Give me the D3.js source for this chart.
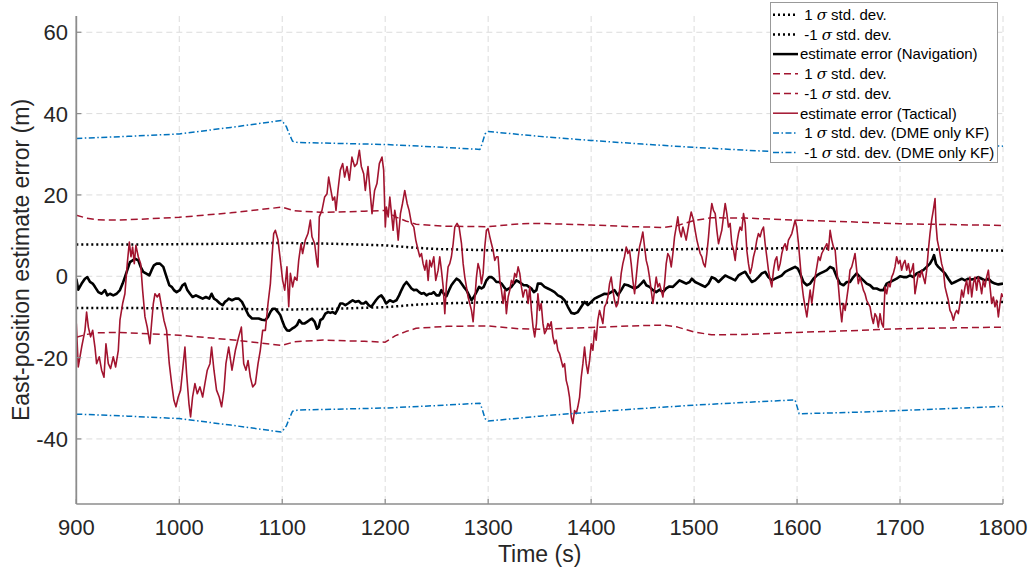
<!DOCTYPE html>
<html><head><meta charset="utf-8">
<script src="https://cdn.jsdelivr.net/npm/d3@7"></script>
<style>html,body{margin:0;padding:0;background:#fff;} svg{display:block;font-family:"Liberation Sans",Arial,Helvetica,sans-serif;}</style>
</head><body><svg id="chart" width="1034" height="573"></svg>
<script>
// ---------- data ----------
const xTicks = [900,1000,1100,1200,1300,1400,1500,1600,1700,1800];
const yTicks = [-40,-20,0,20,40,60];
const xLabel = "Time (s)";
const yLabel = "East-position estimate error (m)";
const legendLabels = ["1 σ std. dev.","-1 σ std. dev.","estimate error (Navigation)","1 σ std. dev.","-1 σ std. dev.","estimate error (Tactical)","1 σ std. dev. (DME only KF)","-1 σ std. dev. (DME only KF)"];

// Navigation-grade 1-sigma envelope
const navSigT = [900,950,1000,1050,1100,1150,1200,1215,1230,1250,1300,1350,1400,1450,1500,1550,1600,1650,1700,1750,1800];
const navSigV = [7.8,7.8,7.9,8.0,8.2,8.0,7.6,7.3,7.0,6.7,6.4,6.3,6.4,6.5,6.7,6.8,6.9,6.8,6.7,6.5,6.3];

// Tactical-grade 1-sigma envelope
const tacSigT = [900,910,920,940,960,1000,1050,1100,1112,1140,1180,1200,1210,1220,1230,1260,1300,1330,1350,1400,1440,1471,1484,1500,1517,1550,1600,1650,1700,1750,1800];
const tacSigV = [15.0,14.3,13.9,13.8,14.0,14.5,15.6,17.0,16.1,15.7,16.0,16.2,14.6,13.6,12.8,12.3,12.2,12.9,13.0,12.6,12.2,12.0,12.5,13.7,14.4,14.3,13.8,13.4,12.9,12.7,12.5];

// DME-only KF 1-sigma envelope
const dmeSigT = [900,950,1000,1050,1099,1101,1104,1106,1110,1115,1150,1200,1250,1292,1294,1297,1300,1350,1400,1450,1500,1550,1598,1600,1602,1650,1700,1750,1800];
const dmeSigV = [33.9,34.4,35.0,36.6,38.3,37.8,36.8,35.5,33.2,32.9,32.7,32.4,31.8,31.2,32.5,35.0,35.6,34.4,33.4,32.5,31.7,31.0,30.4,32.0,33.8,33.5,33.0,32.5,32.0];

// Navigation estimate error
const navT = [900,901.9,905.2,908.4,910.7,913.3,915.9,918.1,921.4,924.6,927.8,930.1,932.7,935.9,939.2,942.4,945,947.2,949.5,952.1,954.7,957,960.2,962.5,965,967.6,970.9,973.1,975.4,978,981.2,984.5,987.7,990.3,992.6,994.8,997.4,1000.6,1003.2,1005.5,1007.8,1010.4,1012.9,1016.2,1019.4,1022.7,1025.9,1029.1,1031.4,1033.7,1036.2,1039.5,1042.1,1044.3,1046.6,
1048,1051.2,1054.5,1057.7,1060.9,1064.2,1067.4,1070.7,1073.9,1077.1,1080.4,1083.6,1086.2,1088.5,1090.7,1093.3,1095.9,1098.2,1100.4,1102.4,1104.6,1106.9,1109.5,1112.1,1114.3,1116.6,1119.2,1121.8,1124.1,1126.3,1128.9,1131.5,1133.8,1135.4,1137,1139.3,1141.9,1144.4,1146.7,1149,1151.6,1154.1,1156.4,1158.7,1161.3,1163.9,1166.1,1168.4,1171,1174.2,1176.8,1179.1,1181.3,1183.9,1186.5,1188.8,1191,1193.6,1196.2,1198.5,1200.8,
1204.5,1207.7,1210.9,1213.5,1215.8,1218.1,1220.7,1223.2,1225.5,1227.8,1230.4,1233,1235.2,1237.5,1240.1,1242.7,1244.9,1247.2,1249.8,1252.4,1254.6,1256.9,1259.5,1262.1,1264.3,1266.6,1269.2,1271.8,1274.1,1276.3,1278.9,1281.5,1283.8,1286,1288.6,1291.2,1293.5,1295.7,1298.3,1300.9,1303.2,1305.4,1308,1310.6,1312.9,1315.2,1317.7,1320.3,1322.6,1324.9,1327.4,1330,1332.3,1334.6,1337.2,1339.7,1342,1344.3,1346.9,
1348.3,1351.5,1354.8,1358,1361.2,1364.5,1367.7,1371,1374.2,1377.4,1380.7,1383.9,1387.1,1390.4,1393.6,1396.8,1400.1,1403.3,1406.5,1409.8,1413,1416.3,1419.5,1422.7,1426,1429.2,1432.4,1435.7,1438.9,1442.2,1445.4,1448.6,1451.2,1453.5,1456.7,1460,1463.2,1466.4,1469.7,1472.9,1476.1,1479.4,1482.6,1485.8,1489.1,1492.3,1495.6,1497.8,
1501,1504.3,1507.5,1510.7,1514,1517.2,1520.5,1523.7,1526.9,1530.2,1533.4,1536.6,1539.9,1543.1,1546.3,1549.6,1552.8,1556.1,1559.3,1562.5,1565.8,1569,1572.2,1575.5,1578.7,1581.9,1585.2,1588.4,1591.6,1594.9,1598.1,1600.7,1603,1606.2,1609.5,1612.7,1615.9,1619.2,1622.4,1625.6,1628.9,1632.1,1635.3,1638.6,1641.8,1645.1,1648.3,
1651.4,1654.7,1657.9,1661.1,1664.4,1667.6,1670.9,1674.1,1677.3,1680.6,1683.8,1687,1690.3,1693.5,1696.7,1700,1703.2,1706.5,1709.7,1712.9,1716.2,1719.4,1722.6,1725.9,1729.1,1731.7,1733,1734.9,1737.2,1740.4,1743.7,1746.9,1750.1,1753.4,1756.6,1759.9,1763.1,1766.3,1769.6,1772.8,1776,1779.3,1782.5,1785.8,1789,1792.2,1795.5,1800];
const navV = [-0.6,-3.3,-1.8,-0.6,-0.2,-1.4,-1.8,-2.6,-3.9,-4.3,-3.4,-4.7,-4.3,-4.7,-4.3,-3.4,-1.8,-0.2,1.5,3.5,3.9,4.3,3.9,2.3,1.1,0.7,0.2,1.5,2.7,3.1,3.1,2.3,-0.2,-2.2,-2.6,-3.4,-3.9,-3.4,-2.2,-1.8,-3.4,-4.3,-5.1,-4.7,-5.1,-5.5,-5.1,-5.5,-4.3,-5.5,-5.9,-6.7,-7.1,-6.3,-5.9,
-5.5,-5.9,-5.5,-5.5,-6.3,-8,-9.6,-10.4,-10.4,-10.4,-10.7,-10.8,-10,-8.8,-8,-8,-8.8,-9.6,-11.2,-12.5,-13.3,-13.4,-12.9,-12.5,-12,-10.8,-11.6,-11.6,-11.2,-10.8,-10.4,-11.2,-12.9,-12.5,-10.8,-10.4,-9.2,-8.8,-9,-8.8,-9.2,-8,-6.7,-6.7,-7.1,-6.7,-6.3,-5.9,-6.3,-6.1,-6.7,-6.7,-6.3,-7.1,-7.5,-6.7,-5.9,-5.1,-4.7,-5.5,-6.7,
-5.9,-6.3,-5.9,-4.7,-3.4,-2.2,-1.4,-2.2,-3,-3.4,-3.3,-3.9,-4.3,-4.1,-4.7,-4.3,-4.3,-3.9,-4.7,-4.7,-3.4,-4.3,-4.9,-3.4,-2.2,-1.4,-0.6,-1,-1.8,-2.6,-3.4,-4.7,-5.9,-5.1,-3.9,-2.6,-3,-2.6,-1,-0.2,-0.2,-0.6,-1.4,-1.4,-1.8,-2.6,-3.4,-3,-2.6,-1.8,-1,-1.4,-1.8,-2.2,-2.2,-2.6,-3,-3.9,-3.4,
-1.8,-1.8,-2.6,-3,-3.4,-3.9,-4.7,-5.1,-5.9,-7.5,-9,-9.2,-8.8,-7.5,-6.3,-7.1,-6.3,-5.5,-5.1,-4.7,-4.3,-4.4,-3.9,-3.4,-4.7,-3.4,-2,-2.2,-2.6,-3,-2.6,-1.8,-1.1,-2.2,-2.6,-3.4,-3.9,-3.3,-3.9,-3,-2.5,-2.6,-1.8,-1,-1.4,-1.8,-1.4,-0.6,
-1.4,-1.8,-2.2,-2.6,-1.8,-0.2,-0.6,-1.4,-0.6,0.2,-0.2,-0.6,-1,0.2,0.7,1.1,-0.2,-1.4,-1,-0.2,0.7,1.1,-0.2,-1,-0.6,-0.2,0.2,1.1,1.5,1.9,2.3,1.9,0.7,-1.4,-2.2,-1.8,-0.6,0.2,0.7,1.1,1.5,2.3,1.9,-0.2,-1.8,-2.2,-1.4,
-1.4,-0.2,0.7,-0.2,-1,-1.8,-2.2,-3,-3,-3.4,-3.4,-1.8,-1.4,-1,-0.6,0,-0.2,-0.2,0.2,-0.2,0.7,1.1,1.5,2.3,3.1,4.3,5.2,3.1,2.3,1.5,0.7,-0.6,-1.8,-1.4,-1,-0.6,-1,-0.6,-0.8,-0.6,-0.2,-0.6,-1,-0.6,-1.4,-1.8,-2,-1.8];

// Tactical estimate error
const tacT = [900,901.9,905.2,908.4,910,911.7,913.9,915.9,918.1,919.7,922.3,924.6,926.9,928.8,931.1,933.3,935.9,938.2,940.8,942.4,945,947.2,949.5,951.5,953.1,954.7,956.3,957.9,960.2,962.5,964.4,966.7,968.9,971.5,973.1,974.8,976.4,978.6,980.6,982.8,985.1,987.7,990.3,992.6,994.8,996.8,999,1001.3,1003.9,1005.5,1007.1,1009.4,1011,1012.9,1015.2,1017.5,1020.1,1022.7,1024.9,1027.2,1029.8,1031.4,1033.7,1036.2,1038.8,1041.1,1043.4,1045.3,
1048,1051.2,1054.5,1057.7,1060.3,1062.6,1064.8,1066.8,1069,1071.3,1073.9,1076.5,1078.7,1081,1083.6,1086.2,1088.5,1090.1,1091.7,1093.3,1095.9,1098.2,1100.4,1102.4,1104.6,1106.3,1107.9,1110.1,1112.1,1114.3,1116,1118.2,1119.8,1122.4,1125,1127.3,1128.9,1131.5,1133.8,1134.7,1136,1138.6,1141.2,1143.5,1145.1,1146.7,1149,1150.9,1152.2,1154.1,1156.4,1158.7,1160.6,1162.9,1165.2,1167.7,1170.3,1172.6,1174.9,1176.8,1179.1,1180.7,1183.3,1185.5,1187.2,1189.7,1192,1194.3,1196.9,1198.5,1200.1,
1201.2,1202.9,1204.5,1206.1,1207.7,1209.3,1210.9,1212.6,1214.8,1216.8,1219,1221.3,1223.2,1225.5,1227.8,1229.7,1232,1233.6,1235.2,1236.8,1238.5,1240.1,1241.7,1243.3,1244.9,1247.2,1249.1,1251.4,1253,1254.6,1256.3,1257.9,1259.5,1261.1,1262.7,1264.3,1266,1267.6,1269.8,1271.8,1274.1,1275.7,1277.3,1278.9,1280.5,1282.1,1283.8,1285.4,1287,1288.6,1290.2,1291.9,1293.5,1295.1,1296.7,1298.3,1299.9,1301.6,1303.2,1304.8,1306.4,1308,1309.6,1311.3,1312.9,1314.5,1316.1,1317.7,1319.4,1321,1322.6,1324.2,1325.8,1327.4,1329.1,1330.7,1332.3,1333.9,1335.5,1337.2,1338.8,1340.4,1342,1343.6,1345.2,1346.9,
1348.3,1349.9,1351.5,1353.2,1354.8,1356.4,1358,1359.6,1361.2,1362.9,1364.5,1366.1,1367.7,1369.3,1371,1372.6,1374.2,1375.8,1377.4,1379,1380.7,1382.3,1383.9,1385.5,1387.1,1388.8,1390.4,1392,1393.6,1395.2,1396.8,1398.5,1400.1,1401.7,1403.3,1404.9,1406.5,1408.2,1409.8,1411.4,1413,1414.6,1416.3,1417.9,1419.5,1421.1,1422.7,1424.4,1426,1427.6,1429.2,1430.8,1432.4,1434.1,1435.7,1437.3,1438.9,1440.5,1442.2,1443.8,1445.4,1447,1448.6,1450.2,1451.9,1453.5,1455.1,1456.7,1458.3,1460,1461.6,1463.2,1464.8,1466.4,1468,1469.7,1471.3,1472.9,1474.5,1476.1,1477.8,1479.4,1481,1482.6,1484.2,1485.8,1487.5,1489.1,1490.7,1492.3,1493.9,1495.6,1497.2,
1499.4,1501,1502.7,1504.3,1505.9,1507.5,1509.1,1510.7,1512.4,1514,1515.6,1517.2,1518.8,1520.5,1522.1,1523.7,1525.3,1526.9,1528.5,1530.2,1531.8,1533.4,1535,1536.6,1538.3,1539.9,1541.5,1543.1,1544.7,1546.3,1548,1549.6,1551.2,1552.8,1554.4,1556.1,1557.7,1559.3,1560.9,1562.5,1564.1,1565.8,1567.4,1569,1570.6,1572.2,1573.9,1575.5,1577.1,1578.7,1580.3,1581.9,1583.6,1585.2,1586.8,1588.4,1590,1591.6,1593.3,1594.9,1596.5,1598.1,1599.7,1601.4,1603,1604.6,1606.2,1607.8,1609.5,1611.1,1612.7,1614.3,1615.9,1617.5,1619.2,1620.8,1622.4,1624,1625.6,1627.3,1628.9,1630.5,1632.1,1633.7,1635.3,1637,1638.6,1640.2,1641.8,1643.4,1645.1,1646.7,
1649.8,1651.4,1653.1,1654.7,1656.3,1657.9,1659.5,1661.1,1662.8,1664.4,1666,1667.6,1669.2,1670.9,1672.5,1674.1,1675.7,1677.3,1678.9,1680.6,1682.2,1683.8,1685.4,1687,1688.7,1690.3,1691.9,1693.5,1695.1,1696.7,1698.4,1700,1701.6,1703.2,1704.8,1706.5,1708.1,1709.7,1711.3,1712.9,1714.5,1716.2,1717.8,1719.4,1721,1722.6,1724.3,1725.9,1727.5,1729.1,1730.7,1732.3,1734,1734.9,1736.2,1738.2,1740.4,1742.1,1743.7,1745.3,1746.9,1748.5,1750.1,1751.8,1753.4,1755,1756.6,1758.2,1759.9,1761.5,1763.1,1764.7,1766.3,1767.9,1769.6,1771.2,1772.8,1774.4,1776,1777.7,1779.3,1780.9,1782.5,1784.1,1785.8,1787.4,1789,1790.6,1792.2,1793.8,1795.5,1797.1,1798.7,1800];
const tacV = [-11.6,-22.3,-17.4,-13.3,-8.8,-12.5,-14.9,-13.3,-17.4,-21.5,-19.8,-23.1,-24.8,-16.6,-21.5,-22.7,-19.8,-22.3,-18.2,-10.8,-6.7,-4.3,3.1,8.4,4.8,7.2,3.1,7.6,4.8,3.1,-3.4,-10,-12.5,-16.6,-11.6,-6.7,-4.3,-5.1,-4.3,-7.5,-10.8,-13.3,-21.5,-26.4,-30.5,-32.1,-29.7,-28,-21.5,-17.4,-23.9,-31.3,-34.6,-29.7,-26.4,-28.9,-27.2,-29.7,-26.4,-23.1,-21.5,-17.4,-23.1,-28,-29.7,-32.1,-28,-21.5,
-17.4,-23.1,-18.2,-14.9,-12.5,-21.5,-23.1,-20.7,-24.8,-27.2,-26.4,-21.5,-18.2,-13.3,-13.3,-6.7,-1.8,4.8,10.5,11.3,8.9,3.9,-1,-3.4,2.3,-7.5,0.7,-2.6,-0.2,-1,3.9,8,5.6,8.9,10.5,13.8,9.7,8,3.1,2.3,14.6,16.2,19.5,20.3,24.4,22,18.7,19.5,16.2,21.1,26.1,27.7,24.4,27,23.6,29.3,27,27.7,31,27,25.2,21.1,27,20.3,15.4,21.1,22.8,27.7,29.3,26.1,12.1,
17,14.6,19.5,15.4,11.3,16.2,13.8,8.9,15.4,17.9,21.1,17.9,16.2,13,12.1,8.9,6.4,4.8,5.6,3.1,1.5,3.9,-1,3.9,2.3,4.8,-1,1.5,4.8,1.5,-2.6,-9.2,-1.8,2.3,3.1,4.8,8,12.1,13,12.1,8,3.1,-0.2,-2.6,-5.1,-6.7,-8.4,-11.2,-5.9,-0.2,3.1,1.5,-1.8,0.7,7.2,11.3,11.7,9.7,8,6.4,3.9,4.8,4.8,-1,-3.4,-6.7,-3.4,-9.2,-5.1,-3.4,-1,-1.8,0.7,-0.2,2.3,0.7,-2.6,-5.1,-3.4,-3.4,-6.7,-2.6,-8.4,-12.5,-14.9,-11.6,
-4.3,-8.4,-6.7,-11.6,-14.1,-13.3,-11.6,-12.5,-11.2,-14.9,-16.6,-15.7,-18.2,-19,-20.7,-22.3,-21.5,-25.6,-27.2,-29.7,-34.6,-36.2,-33,-33.8,-32.1,-29.7,-24.8,-21.5,-17.4,-21.5,-23.9,-20.7,-16.6,-18.2,-13.3,-15.7,-10.8,-8.4,-10,-11.6,-7.5,-6.7,-5.1,-1.8,-0.2,-3.4,-5.9,-7.5,-6.7,-3.4,0.7,3.1,4.8,7.2,5.6,6.4,3.1,-1,-4.3,-0.2,3.9,7.2,8.9,10.9,7.2,3.9,2.3,-0.2,-3.4,-6.7,-3.4,-0.2,-2.6,-1.8,-3.4,-5.1,-1.8,3.1,5.6,4.8,2.3,5.6,9.7,12.1,14.6,11.3,9.7,12.1,10.5,8.9,11.3,13.8,15.8,
13.8,11.3,8.9,7.2,5.6,4.8,3.1,2.3,5.6,9.7,14.6,17.9,16.2,15.4,11.3,8,9.7,11.3,14.6,17.9,15.4,12.1,13,8,6.4,3.9,8,10.5,12.1,11.3,15.4,13,6.4,3.1,0.7,2.3,4.8,6.4,8.9,10.5,9.7,11.3,12.1,8,4.8,1.5,-1,-2.6,1.5,3.9,4.8,1.5,3.1,5.6,7.2,8,6.4,8.9,9.7,10.5,12.1,13.8,12.1,8,3.1,-1.8,-5.1,-7.5,-10,-6.7,-3.4,-6.7,-3.4,-0.2,2.3,4.8,3.9,5.6,6.4,7.2,8,6.4,11.3,8.9,7.2,6.4,1.5,-2.6,-7.5,-11.2,-6.7,-8.4,
-2.6,1.5,2.3,3.9,5.6,1.5,-1.8,-0.2,-1.8,-3.4,-4.3,-5.9,-6.7,-7.5,-10,-11.6,-9.2,-10,-12.5,-9.2,-11.6,-12.5,-2.6,-4.3,-1.8,-2.6,-0.2,0.7,2.3,4.8,3.1,3.9,1.5,3.1,3.9,1.5,3.1,0.7,1.5,3.1,-4.3,-1.8,0.7,-0.2,1.5,-0.2,-1.8,1.5,6.4,10.5,13.8,16.2,19.1,13,8.9,6.4,3.1,1.5,-2.6,-4.3,-5.9,-8.4,-9.2,-10.8,-9.2,-8.4,-9.2,-6.7,-3.4,-5.1,-2.6,-1,-4.3,-0.2,-5.1,-1.8,-0.2,-3.4,-0.2,-1.8,-4.3,-1,-2.6,-0.2,1.5,-2.6,-6.7,-5.1,-7.5,-5.9,-10,-6.7,-4.3,-5.1];

// ---------- chart ----------
const svg = d3.select("#chart");
const L = 76.3, R = 1003, T = 16, B = 504;
const x = d3.scaleLinear().domain([900,1800]).range([L,R]);
const y = d3.scaleLinear().domain([-56,64]).range([B,T]);

svg.append("defs").append("clipPath").attr("id","clip")
  .append("rect").attr("x",L).attr("y",T).attr("width",R-L).attr("height",B-T);

// grid
const grid = svg.append("g");
grid.selectAll("line.gx").data(xTicks).join("line")
  .attr("x1",d=>x(d)).attr("x2",d=>x(d)).attr("y1",T).attr("y2",B)
  .attr("stroke","#dcdcdc").attr("stroke-width",1).attr("stroke-dasharray","6,4");
grid.selectAll("line.gy").data(yTicks).join("line")
  .attr("x1",L).attr("x2",R).attr("y1",d=>y(d)).attr("y2",d=>y(d))
  .attr("stroke","#dcdcdc").attr("stroke-width",1).attr("stroke-dasharray","6,4");

const plot = svg.append("g").attr("clip-path","url(#clip)");
const zip = (ts,vs,s)=>ts.map((t,i)=>[t,s*vs[i]]);
const line = d3.line().x(d=>x(d[0])).y(d=>y(d[1]));

function draw(data,color,width,dash){
  plot.append("path").datum(data).attr("d",line)
    .attr("fill","none").attr("stroke",color).attr("stroke-width",width)
    .attr("stroke-dasharray",dash||null).attr("stroke-linejoin","round");
}
const BLACK="#000000", RED="#A2142F", BLUE="#0072BD";
const DOT="2,3", DASH="7,4", DASHDOT="6,2.5,1.5,2.5";

draw(zip(navSigT,navSigV,1),BLACK,2.5,DOT);
draw(zip(navSigT,navSigV,-1),BLACK,2.5,DOT);
draw(zip(navT,navV,1),BLACK,2.6);
draw(zip(tacSigT,tacSigV,1),RED,1.5,DASH);
draw(zip(tacSigT,tacSigV,-1),RED,1.5,DASH);
draw(zip(tacT,tacV,1),RED,1.6);
draw(zip(dmeSigT,dmeSigV,1),BLUE,1.5,DASHDOT);
draw(zip(dmeSigT,dmeSigV,-1),BLUE,1.5,DASHDOT);

// axes
const ax = svg.append("g").attr("stroke","#8c8c8c");
ax.append("line").attr("x1",L).attr("x2",L).attr("y1",T).attr("y2",B).attr("stroke-width",1.8);
ax.append("line").attr("x1",L).attr("x2",R).attr("y1",B).attr("y2",B).attr("stroke-width",1.5);
ax.selectAll("line.tx").data(xTicks).join("line")
  .attr("x1",d=>x(d)).attr("x2",d=>x(d)).attr("y1",B).attr("y2",B-5).attr("stroke-width",1.2);
ax.selectAll("line.ty").data(yTicks).join("line")
  .attr("x1",L).attr("x2",L+5).attr("y1",d=>y(d)).attr("y2",d=>y(d)).attr("stroke-width",1.2);

svg.append("g").selectAll("text").data(xTicks).join("text")
  .attr("x",d=>x(d)).attr("y",535).attr("text-anchor","middle")
  .attr("font-size",22).attr("fill","#262626").text(d=>String(d));
svg.append("g").selectAll("text").data(yTicks).join("text")
  .attr("x",68).attr("y",d=>y(d)+8).attr("text-anchor","end")
  .attr("font-size",22).attr("fill","#262626").text(d=>String(d));

svg.append("text").attr("x",(L+R)/2).attr("y",562).attr("text-anchor","middle")
  .attr("font-size",23).attr("fill","#262626").text(xLabel);
svg.append("text").attr("transform",`translate(29,${(T+B)/2}) rotate(-90)`)
  .attr("text-anchor","middle").attr("font-size",23).attr("fill","#262626").text(yLabel);

// legend
const lg = svg.append("g");
lg.append("rect").attr("x",770.5).attr("y",2.5).attr("width",227).attr("height",160)
  .attr("fill","#fff").attr("stroke","#999").attr("stroke-width",1);
const legStyles = [
  [BLACK,2.5,DOT],[BLACK,2.5,DOT],[BLACK,2.5,null],
  [RED,1.5,DASH],[RED,1.5,DASH],[RED,1.5,null],
  [BLUE,1.5,DASHDOT],[BLUE,1.5,DASHDOT]];
legendLabels.forEach((lab,i)=>{
  const cy = 14.7 + i*19.7;
  const st = legStyles[i];
  lg.append("line").attr("x1",773).attr("x2",798).attr("y1",cy).attr("y2",cy)
    .attr("stroke",st[0]).attr("stroke-width",st[1]).attr("stroke-dasharray",st[2]);
  const tx = lab.startsWith("estimate") ? 800 : 804.2;
  const t = lg.append("text").attr("x",tx).attr("y",cy+5.3).attr("font-size",15).attr("fill","#000");
  const parts = lab.split("σ");
  if (parts.length===2){
    t.append("tspan").text(parts[0]);
    t.append("tspan").attr("font-style","italic").attr("font-family","'DejaVu Serif','Liberation Serif',serif").text("σ");
    t.append("tspan").text(parts[1]);
  } else t.text(lab);
});
</script></body></html>
